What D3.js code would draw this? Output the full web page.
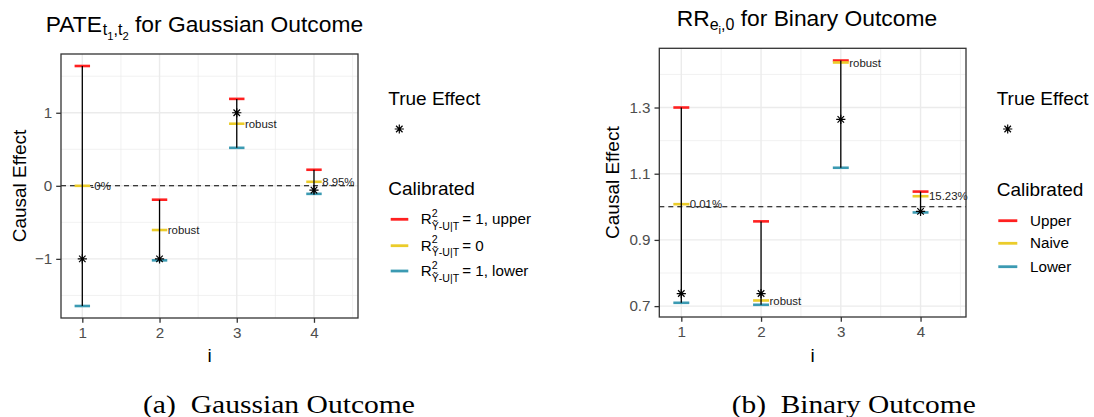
<!DOCTYPE html>
<html>
<head>
<meta charset="utf-8">
<script src="https://cdn.jsdelivr.net/npm/d3@7"></script>
<style>
  body { margin: 0; background: #fff; }
  text { font-family: "Liberation Sans", Arial, Helvetica, sans-serif; }
</style>
</head>
<body>
<div id="chart"></div>
<script>
// data
const ids = [1, 2, 3, 4]

const gaussUpper = [1.64, -0.19, 1.19, 0.22]
const gaussNaive = [0, -0.605, 0.85, 0.055]
const gaussLower = [-1.645, -1.02, 0.52, -0.11]
const gaussTrue = [-1, -1, 1, -0.06]
const gaussLabels = ["-0%", "robust", "robust", "8.95%"]
const gaussTicks = [-1, 0, 1]
const gaussMinor = [-1.5, -0.5, 0.5, 1.5]

const binUpper = [1.30, 0.956, 1.442, 1.046]
const binNaive = [1.008, 0.717, 1.436, 1.032]
const binLower = [0.710, 0.704, 1.118, 0.983]
const binTrue = [0.738, 0.738, 1.264, 0.986]
const binLabels = ["0.01%", "robust", "robust", "15.23%"]
const binTicks = [0.7, 0.9, 1.1, 1.3]
const binMinor = [0.8, 1.0, 1.2, 1.4]

const xTicks = [1, 2, 3, 4]
const xMinor = [1.5, 2.5, 3.5, 4.5]

const gaussLegend = ["= 1, upper", "= 0", "= 1, lower"]
const binLegend = ["Upper", "Naive", "Lower"]

const COLORS = { upper: "#FF2020", naive: "#EBCC2A", lower: "#3B9AB2" }
const GRID = "#EBEBEB"

const svg = d3.select("#chart").append("svg")
  .attr("width", 1094)
  .attr("height", 417)

// text made of pieces (sub/superscripts), laid out left to right
function richText(g, x, y, parts, fill) {
  let cx = x
  parts.forEach(p => {
    cx += p.gap || 0
    const t = g.append("text")
      .attr("x", cx)
      .attr("y", y + (p.dy || 0))
      .attr("font-size", p.size)
      .attr("fill", fill || "#000")
      .text(p.t)
    if (!p.stack) cx += t.node().getComputedTextLength()
  })
}

function asterisk(sel, r) {
  const k = r * 0.7071
  sel.append("path")
    .attr("d", `M${-r},0L${r},0M0,${-r}L0,${r}M${-k},${-k}L${k},${k}M${-k},${k}L${k},${-k}`)
    .attr("stroke", "#000")
    .attr("stroke-width", 1.2)
    .attr("fill", "none")
}

function drawPanel(p) {
  const g = svg.append("g")
  const pts = ids.map((id, i) => ({
    id, upper: p.upper[i], naive: p.naive[i], lower: p.lower[i], truth: p.truth[i], label: p.labels[i]
  }))

  const x = d3.scaleLinear().domain([0.724, 4.57]).range([p.x0, p.x1])
  const ext = d3.extent([...p.upper, ...p.lower, ...p.truth])
  const pad = (ext[1] - ext[0]) * 0.05
  const y = d3.scaleLinear().domain([ext[0] - pad, ext[1] + pad]).range([p.y1, p.y0])

  // grid
  g.selectAll(".ymin").data(p.minor).enter().append("line")
    .attr("x1", p.x0).attr("x2", p.x1)
    .attr("y1", d => y(d)).attr("y2", d => y(d))
    .attr("stroke", GRID).attr("stroke-width", 0.7)
  g.selectAll(".xmin").data(xMinor).enter().append("line")
    .attr("x1", d => x(d)).attr("x2", d => x(d))
    .attr("y1", p.y0).attr("y2", p.y1)
    .attr("stroke", GRID).attr("stroke-width", 0.7)
  g.selectAll(".ymaj").data(p.ticks).enter().append("line")
    .attr("x1", p.x0).attr("x2", p.x1)
    .attr("y1", d => y(d)).attr("y2", d => y(d))
    .attr("stroke", GRID).attr("stroke-width", 1.4)
  g.selectAll(".xmaj").data(xTicks).enter().append("line")
    .attr("x1", d => x(d)).attr("x2", d => x(d))
    .attr("y1", p.y0).attr("y2", p.y1)
    .attr("stroke", GRID).attr("stroke-width", 1.4)

  // reference line
  g.append("line")
    .attr("x1", p.x0).attr("x2", p.x1)
    .attr("y1", y(p.ref)).attr("y2", y(p.ref))
    .attr("stroke", "#000").attr("stroke-width", 1.1)
    .attr("stroke-dasharray", "5,4")

  // caps
  const half = 0.1
  const caps = [["upper", COLORS.upper], ["naive", COLORS.naive], ["lower", COLORS.lower]]
  caps.forEach(([key, col]) => {
    g.selectAll(".cap-" + key).data(pts).enter().append("line")
      .attr("x1", d => x(d.id - half)).attr("x2", d => x(d.id + half))
      .attr("y1", d => y(d[key])).attr("y2", d => y(d[key]))
      .attr("stroke", col).attr("stroke-width", 2.6)
  })

  // vertical bars
  g.selectAll(".bar").data(pts).enter().append("line")
    .attr("x1", d => x(d.id)).attr("x2", d => x(d.id))
    .attr("y1", d => y(d.lower)).attr("y2", d => y(d.upper))
    .attr("stroke", "#000").attr("stroke-width", 1.3)

  // true effects
  g.selectAll(".truth").data(pts).enter().append("g")
    .attr("transform", d => `translate(${x(d.id)},${y(d.truth)})`)
    .each(function () { asterisk(d3.select(this), 4.6) })

  // labels
  g.selectAll(".lab").data(pts).enter().append("text")
    .attr("x", d => x(d.id + half) + 0.5)
    .attr("y", d => y(d.naive))
    .attr("dy", "0.36em")
    .attr("font-size", 11.4)
    .attr("fill", "#222")
    .text(d => d.label)

  // border
  g.append("rect")
    .attr("x", p.x0).attr("y", p.y0)
    .attr("width", p.x1 - p.x0).attr("height", p.y1 - p.y0)
    .attr("fill", "none").attr("stroke", "#333").attr("stroke-width", 1.3)

  // axes
  const xAxis = g.append("g")
    .attr("transform", `translate(0,${p.y1})`)
    .call(d3.axisBottom(x).tickValues(xTicks).tickSize(4.8).tickPadding(4).tickFormat(d3.format("d")))
  const yAxis = g.append("g")
    .attr("transform", `translate(${p.x0},0)`)
    .call(d3.axisLeft(y).tickValues(p.ticks).tickSize(4.8).tickPadding(4).tickFormat(p.fmt))
  ;[xAxis, yAxis].forEach(a => {
    a.select(".domain").remove()
    a.selectAll(".tick line").attr("stroke", "#333").attr("stroke-width", 1.3)
    a.selectAll(".tick text").attr("fill", "#4D4D4D").attr("font-size", 15.2)
      .attr("font-family", "Liberation Sans, Arial, sans-serif")
  })

  g.append("text")
    .attr("x", (p.x0 + p.x1) / 2).attr("y", 361.5)
    .attr("text-anchor", "middle").attr("font-size", 19)
    .text("i")
  g.append("text")
    .attr("transform", `translate(${p.yTitleX},${(p.y0 + p.y1) / 2}) rotate(-90)`)
    .attr("text-anchor", "middle").attr("font-size", 19)
    .text("Causal Effect")
}

drawPanel({
  x0: 61, x1: 358, y0: 54, y1: 318,
  upper: gaussUpper, naive: gaussNaive, lower: gaussLower, truth: gaussTrue, labels: gaussLabels,
  ticks: gaussTicks, minor: gaussMinor, ref: 0, fmt: d3.format("d"), yTitleX: 26
})
drawPanel({
  x0: 659.3, x1: 966, y0: 48.3, y1: 317,
  upper: binUpper, naive: binNaive, lower: binLower, truth: binTrue, labels: binLabels,
  ticks: binTicks, minor: binMinor, ref: 1, fmt: d3.format(".1f"), yTitleX: 619
})

// titles
const titles = svg.append("g")
richText(titles, 45.7, 31.7, [
  { t: "PATE", size: 22.8 },
  { t: "t", size: 16, dy: 3.5, gap: 1 },
  { t: "1", size: 11.2, dy: 8.5 },
  { t: ",", size: 16, dy: 3.5 },
  { t: "t", size: 16, dy: 3.5 },
  { t: "2", size: 11.2, dy: 8.5 },
  { t: "for Gaussian Outcome", size: 22.8, gap: 6.3 }
])
richText(titles, 676.7, 26, [
  { t: "RR", size: 22.8 },
  { t: "e", size: 16, dy: 4 },
  { t: "i", size: 11.2, dy: 7.5 },
  { t: ",0", size: 16, dy: 4 },
  { t: "for Binary Outcome", size: 22.8, gap: 6.3 }
])

// legends
function drawLegend(lx, itemsY, lineX0, lineX1, labelX, labelFn, titleY2) {
  const g = svg.append("g")
  g.append("text").attr("x", lx).attr("y", 105).attr("font-size", 19).text("True Effect")
  const a = g.append("g").attr("transform", `translate(${lx + 11},129)`)
  asterisk(a, 4.6)
  g.append("text").attr("x", lx).attr("y", titleY2).attr("font-size", 19).text("Calibrated")
  const keys = [COLORS.upper, COLORS.naive, COLORS.lower]
  keys.forEach((c, i) => {
    g.append("line")
      .attr("x1", lineX0).attr("x2", lineX1)
      .attr("y1", itemsY[i]).attr("y2", itemsY[i])
      .attr("stroke", c).attr("stroke-width", 2.8)
    labelFn(g, labelX, itemsY[i] + 5, i)
  })
}

drawLegend(388.3, [219.3, 245.7, 271], 390.7, 408.3, 420.7, (g, x, y, i) => {
  richText(g, x, y, [
    { t: "R", size: 15.2 },
    { t: "2", size: 10.6, dy: -7.4, stack: true },
    { t: "Ỹ-U|T", size: 10.6, dy: 5.5 },
    { t: gaussLegend[i], size: 15.2, gap: 3 }
  ])
}, 195)

drawLegend(996.7, [220.7, 243.3, 266.7], 998.3, 1017.3, 1030, (g, x, y, i) => {
  g.append("text").attr("x", x).attr("y", y).attr("font-size", 15.2).text(binLegend[i])
}, 196)

// sub-captions
const subCaps = [
  { text: "(a)\u2002Gaussian Outcome", x: 143, len: 272 },
  { text: "(b)\u2002Binary Outcome", x: 731.7, len: 244 }
]
svg.append("g").selectAll("text").data(subCaps).enter().append("text")
  .attr("x", d => d.x).attr("y", 413)
  .attr("font-size", 25)
  .attr("textLength", d => d.len).attr("lengthAdjust", "spacingAndGlyphs")
  .style("font-family", "Liberation Serif, DejaVu Serif, serif")
  .text(d => d.text)
</script>
</body>
</html>
